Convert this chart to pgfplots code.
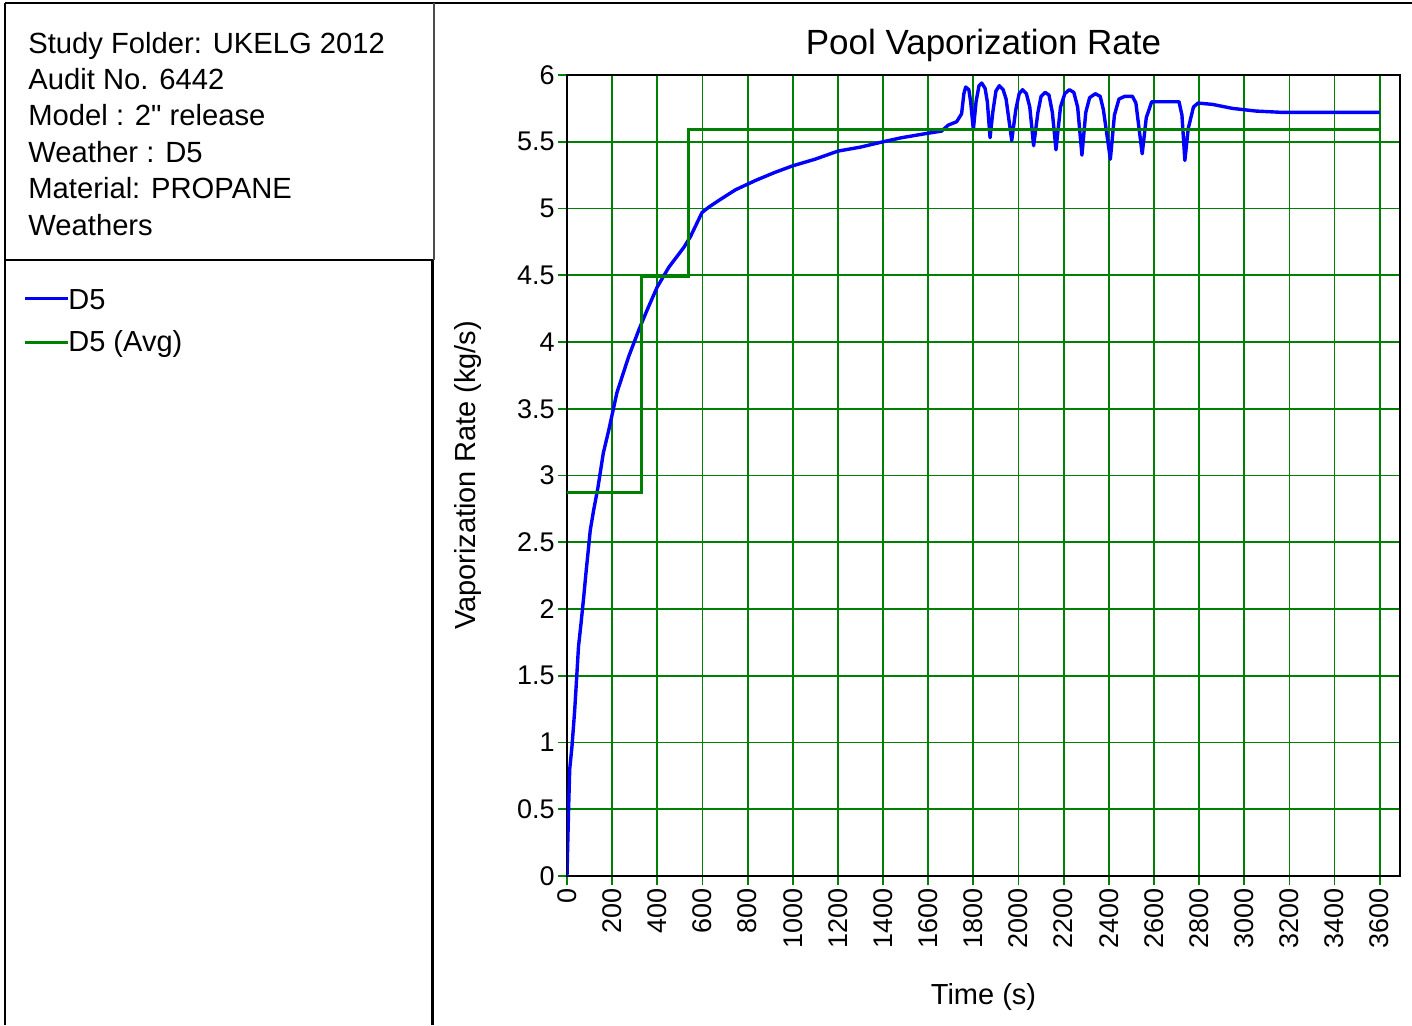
\documentclass[border=0pt]{standalone}
\usepackage{fontspec}
\setmainfont{Liberation Sans}
\usepackage{pgfplots}
\pgfplotsset{compat=1.18}
\definecolor{gridgreen}{RGB}{0,128,0}
\definecolor{pureblue}{RGB}{0,0,255}
\begin{document}
\begin{tikzpicture}
\useasboundingbox (0pt,0pt) rectangle (706pt,-512.5pt);
% frame lines of the panels
\draw[black, line width=1pt] (2.5pt,-1.5pt) -- (706pt,-1.5pt);
\draw[black, line width=1pt] (2.5pt,-1.5pt) -- (2.5pt,-512.5pt);
\draw[black, line width=1pt] (2.5pt,-130pt) -- (216.5pt,-130pt);
\draw[black!70, line width=0.8pt] (217pt,-1.5pt) -- (217pt,-130pt);
\draw[black, line width=1.5pt] (216.3pt,-130pt) -- (216.3pt,-512.5pt);
% info text
\begin{scope}[every node/.style={anchor=base west, inner sep=0pt, font=\fontsize{14.6}{17}\selectfont}]
\node at (14pt,-26.5pt) {Study Folder: UKELG 2012};
\node at (14pt,-44.7pt) {Audit No. 6442};
\node at (14pt,-62.9pt) {Model : 2\textquotedbl{} release};
\node at (14pt,-81.1pt) {Weather : D5};
\node at (14pt,-99.3pt) {Material: PROPANE};
\node at (14pt,-117.5pt) {Weathers};
\end{scope}
% legend
\draw[pureblue, line width=1.5pt] (12.5pt,-149pt) -- (34pt,-149pt);
\node[anchor=west, inner sep=0pt, font=\fontsize{14.5}{17}\selectfont] at (34pt,-150pt) {D5};
\draw[gridgreen, line width=1.5pt] (12.5pt,-171pt) -- (34pt,-171pt);
\node[anchor=west, inner sep=0pt, font=\fontsize{14.5}{17}\selectfont] at (34pt,-172pt) {D5 (Avg)};
\begin{axis}[
  at={(283.5pt,-438pt)}, anchor=south west,
  scale only axis, width=416.5pt, height=400.5pt,
  xmin=0, xmax=3690, ymin=0, ymax=6,
  xtick={0,200,400,600,800,1000,1200,1400,1600,1800,2000,2200,2400,2600,2800,3000,3200,3400,3600},
  ytick={0,0.5,1,1.5,2,2.5,3,3.5,4,4.5,5,5.5,6},
  tick pos=left,
  scaled ticks=false,
  /pgf/number format/1000 sep={},
  /pgf/number format/assume math mode=true,
  grid=major,
  grid style={gridgreen, line width=0.9pt},
  major tick style={gridgreen, line width=0.9pt},
  tick align=outside, major tick length=4.5pt,
  axis line style={black, line width=0.9pt},
  ticklabel style={font=\fontsize{13.5}{16}\selectfont, inner sep=1.5pt},
  xticklabel style={rotate=90, anchor=east},
  title={Pool Vaporization Rate},
  title style={at={(axis description cs:0.5,1)}, anchor=center, yshift=9pt, font=\fontsize{17.5}{20}\selectfont},
  xlabel={Time (s)},
  xlabel style={at={(axis description cs:0.5,0)}, anchor=center, yshift=-60.5pt, font=\fontsize{14.5}{17}\selectfont},
  ylabel={Vaporization Rate (kg/s)},
  ylabel style={at={(axis description cs:0,0.5)}, anchor=center, yshift=49.5pt, font=\fontsize{14.5}{17}\selectfont},
]
\addplot[pureblue, line width=1.7pt, line join=round] table {
0 0
2 0.15
7 0.5
12 0.8
22 0.97
34 1.24
44 1.52
51 1.72
62 1.89
74 2.09
84 2.27
93 2.42
103 2.59
118 2.74
137 2.91
161 3.17
185 3.34
221 3.62
273 3.89
318 4.09
355 4.24
399 4.41
451 4.56
518 4.71
547 4.79
598 4.97
628 5.01
672 5.06
746 5.14
835 5.21
920 5.27
1000 5.32
1100 5.37
1200 5.43
1300 5.46
1400 5.50
1481 5.53
1585 5.56
1659 5.58
1689 5.625
1726 5.65
1748 5.71
1758 5.86
1766 5.91
1780 5.89
1788 5.80
1800 5.59
1812 5.80
1825 5.92
1837 5.94
1852 5.90
1862 5.80
1874 5.53
1886 5.72
1900 5.88
1915 5.92
1932 5.89
1945 5.82
1970 5.51
1988 5.74
2003 5.86
2018 5.89
2035 5.86
2050 5.76
2067 5.47
2086 5.72
2100 5.84
2118 5.87
2135 5.85
2150 5.72
2166 5.44
2186 5.76
2205 5.86
2225 5.89
2245 5.87
2262 5.76
2281 5.40
2298 5.72
2315 5.83
2340 5.86
2362 5.84
2376 5.74
2407 5.37
2425 5.70
2445 5.82
2470 5.84
2505 5.84
2520 5.79
2548 5.41
2566 5.68
2590 5.80
2711 5.80
2724 5.70
2737 5.36
2752 5.60
2775 5.76
2795 5.79
2859 5.78
2948 5.75
3052 5.73
3170 5.72
3600 5.72
};
\addplot[gridgreen, line width=1.5pt, const plot] table {
0 2.876
331 4.49
536 5.595
3600 5.595
};
\end{axis}
\end{tikzpicture}
\end{document}
